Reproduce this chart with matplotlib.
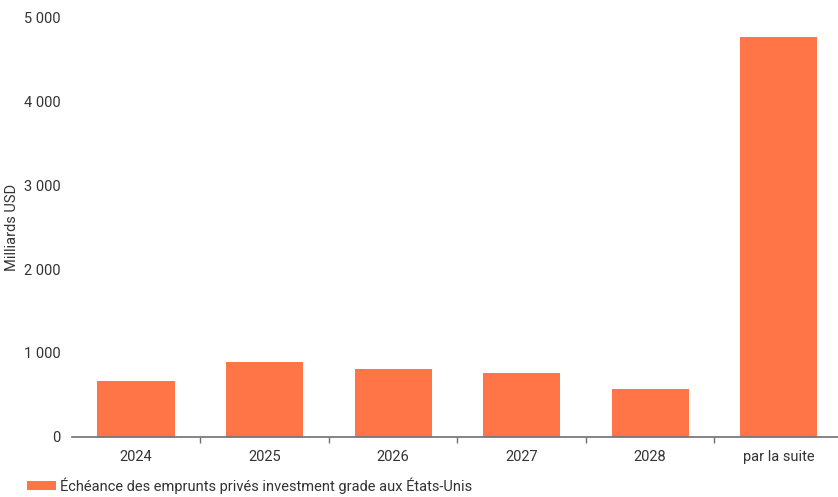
# Maturités des emprunts privés investment grade aux États-Unis

import matplotlib.pyplot as plt
from matplotlib.ticker import FixedLocator, FuncFormatter

categories = ["2024", "2025", "2026", "2027", "2028", "par la suite"]
values = [663, 890, 806, 759, 567, 4773]  # Milliards USD
series_label = "Échéance des emprunts privés investment grade aux États-Unis"
y_ticks = [0, 1000, 2000, 3000, 4000, 5000]

BAR_COLOR = "#FF7548"
TEXT_COLOR = "#333333"
AXIS_COLOR = "#707070"


def thousands(v, pos):
    return f"{int(v):,}".replace(",", " ")


def main():
    plt.rcParams["font.family"] = ["Roboto", "DejaVu Sans"]
    plt.rcParams["font.size"] = 10.5

    fig = plt.figure(figsize=(8.38, 4.97), dpi=100)
    ax = fig.add_axes([71.7 / 838, 60.5 / 497, 771.3 / 838, 418.5 / 497])

    x = range(len(categories))
    ax.bar(x, values, width=0.6, color=BAR_COLOR, label=series_label, zorder=2)

    ax.set_xlim(-0.5, len(categories) - 0.5)
    ax.set_ylim(0, 5000)
    ax.set_xticks(list(x))
    ax.set_xticklabels(categories, color=TEXT_COLOR)
    ax.xaxis.set_minor_locator(FixedLocator([i + 0.5 for i in range(len(categories) - 1)]))
    ax.tick_params(axis="x", which="major", length=0, pad=10)
    ax.tick_params(axis="x", which="minor", length=4, color=AXIS_COLOR, width=1)

    ax.set_yticks(y_ticks)
    ax.yaxis.set_major_formatter(FuncFormatter(thousands))
    ax.tick_params(axis="y", length=0, pad=8, labelcolor=TEXT_COLOR)
    ax.set_ylabel("Milliards USD", color=TEXT_COLOR, labelpad=2)
    ax.yaxis.set_label_coords(-53 / 771.3, 0.5)

    for side in ["top", "right", "left"]:
        ax.spines[side].set_visible(False)
    ax.spines["bottom"].set_color(AXIS_COLOR)
    ax.spines["bottom"].set_linewidth(1.2)

    fig.legend(
        loc="lower left",
        bbox_to_anchor=(14 / 838, -10 / 497),
        frameon=False,
        handlelength=1.95,
        handleheight=0.6,
        handletextpad=0.3,
        labelcolor=TEXT_COLOR,
    )

    fig.savefig("out.png", dpi=100)


if __name__ == "__main__":
    main()
